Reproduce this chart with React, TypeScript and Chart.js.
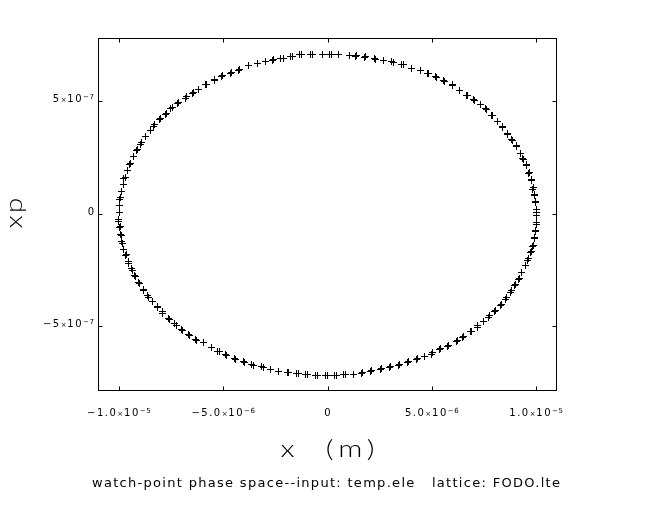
import React, { useEffect, useRef } from "react";
import { Chart, registerables } from "chart.js";

Chart.register(...registerables);

// x in units of 1e-6 m, xp in units of 1e-7
const Q1_X = [-0.25,-0.74,-0.82,-1.26,-1.33,-1.70,-1.76,-2.13,-2.24,-2.58,-2.66,-2.98,-3.37,-3.78,-4.21,-4.26,-4.61,-4.66,-5.01,-5.09,-5.41,-5.44,-5.78,-5.86,-6.17,-6.41,-6.48,-6.77,-6.82,-7.12,-7.17,-7.44,-7.52,-7.73,-7.78,-8.02,-8.04,-8.28,-8.33,-8.49,-8.73,-8.93,-8.97,-9.13,-9.17,-9.29,-9.45,-9.50,-9.60,-9.69,-9.76,-9.80,-9.88,-9.93,-9.95,-9.96,-9.96];
const Q1_Y = [7.10,7.10,7.07,7.07,7.07,7.00,6.98,6.93,6.93,6.85,6.84,6.78,6.70,6.58,6.41,6.39,6.29,6.26,6.14,6.11,5.99,5.95,5.77,5.73,5.55,5.40,5.37,5.20,5.15,4.95,4.91,4.73,4.70,4.46,4.42,4.24,4.18,3.96,3.88,3.69,3.44,3.17,3.10,2.85,2.80,2.55,2.26,2.21,1.91,1.61,1.57,1.32,0.99,0.73,0.62,0.39,0.06];

const Q2_X = [0.09,0.17,0.54,1.05,1.38,1.33,1.81,1.76,2.29,2.24,2.69,3.17,3.09,3.65,3.57,4.02,4.45,4.85,4.80,5.22,5.17,5.62,5.57,6.00,5.97,6.34,6.32,6.69,6.65,7.04,7.01,7.33,7.60,7.57,7.89,7.85,8.17,8.14,8.41,8.38,8.64,8.61,8.88,8.84,9.08,9.05,9.24,9.41,9.37,9.53,9.56,9.67,9.65,9.77,9.80,9.85,9.84,9.93,9.92,9.99,9.97,10.0,10.0];
const Q2_Y = [7.10,7.10,7.10,7.06,7.03,7.00,6.98,6.95,6.88,6.91,6.81,6.73,6.76,6.63,6.63,6.48,6.36,6.24,6.26,6.06,6.09,5.89,5.92,5.69,5.73,5.47,5.50,5.25,5.28,5.06,5.09,4.85,4.63,4.68,4.36,4.39,4.09,4.12,3.84,3.87,3.55,3.59,3.25,3.29,2.98,3.02,2.70,2.43,2.48,2.14,2.18,1.84,1.79,1.54,1.47,1.17,1.10,0.88,0.80,0.53,0.50,0.21,0.06];

const Q3_X = [-10.0,-10.0,-9.96,-9.93,-9.91,-9.88,-9.85,-9.84,-9.76,-9.67,-9.65,-9.53,-9.52,-9.41,-9.36,-9.24,-9.21,-9.05,-9.00,-8.84,-8.80,-8.64,-8.60,-8.41,-8.17,-8.13,-7.92,-7.89,-7.61,-7.56,-7.33,-7.25,-6.98,-6.93,-6.65,-6.61,-6.32,-6.26,-5.93,-5.57,-5.25,-5.17,-4.90,-4.82,-4.45,-4.40,-4.05,-3.97,-3.62,-3.54,-3.17,-3.09,-2.74,-2.33,-1.94,-1.85,-1.50,-1.41,-1.05,-0.97,-0.58,-0.50,-0.11,-0.02];
const Q3_Y = [-0.24,-0.36,-0.61,-0.58,-0.92,-0.98,-1.25,-1.32,-1.57,-1.84,-1.79,-2.14,-2.21,-2.43,-2.50,-2.73,-2.80,-3.06,-3.10,-3.35,-3.39,-3.65,-3.72,-3.88,-4.14,-4.18,-4.36,-4.43,-4.66,-4.68,-4.88,-4.95,-5.15,-5.17,-5.37,-5.40,-5.57,-5.62,-5.74,-5.96,-6.11,-6.14,-6.24,-6.29,-6.44,-6.46,-6.55,-6.61,-6.69,-6.73,-6.78,-6.84,-6.91,-7.00,-7.06,-7.06,-7.10,-7.10,-7.13,-7.15,-7.18,-7.18,-7.18,-7.18];

const Q4_X = [10.01,10.01,10.01,9.98,9.96,9.93,9.91,9.88,9.84,9.77,9.72,9.64,9.60,9.48,9.32,9.19,9.17,9.00,8.96,8.81,8.76,8.57,8.52,8.33,8.28,8.04,8.00,7.76,7.73,7.49,7.20,7.17,6.89,6.85,6.53,6.48,6.21,6.16,5.81,5.76,5.41,5.36,5.04,4.98,4.64,4.32,4.26,3.89,3.84,3.46,3.41,3.04,2.98,2.61,2.53,2.13,2.05,1.69,1.62,1.26,0.85,0.78,0.41,0.33];
const Q4_Y = [-0.06,-0.40,-0.48,-0.73,-0.77,-1.05,-1.10,-1.39,-1.44,-1.66,-1.73,-1.99,-2.06,-2.31,-2.62,-2.88,-2.92,-3.14,-3.20,-3.43,-3.50,-3.74,-3.80,-4.03,-4.09,-4.28,-4.33,-4.54,-4.60,-4.77,-4.98,-5.06,-5.22,-5.25,-5.44,-5.50,-5.62,-5.69,-5.84,-5.89,-5.99,-6.04,-6.17,-6.24,-6.36,-6.44,-6.48,-6.58,-6.63,-6.70,-6.76,-6.81,-6.85,-6.88,-6.93,-6.98,-7.03,-7.06,-7.10,-7.13,-7.13,-7.15,-7.18,-7.18];

const X_UNIT = 1e-6;
const Y_UNIT = 1e-7;

const X_MIN = -1.1e-5;
const X_MAX = 1.1e-5;
const Y_MIN = -7.88e-7;
const Y_MAX = 7.82e-7;

const X_TICKS = [-1e-5, -5e-6, 0, 5e-6, 1e-5];
const X_TICK_MANT = ["\u22121.0", "\u22125.0", "0", "5.0", "1.0"];
const X_TICK_EXP = ["\u22125", "\u22126", "", "\u22126", "\u22125"];

const Y_TICKS = [-5e-7, 0, 5e-7];
const Y_TICK_MANT = ["\u22125", "0", "5"];
const Y_TICK_EXP = ["\u22127", "", "\u22127"];

const X_TITLE = "x  (m)";
const Y_TITLE = "xp";
const CAPTION = "watch-point phase space--input: temp.ele   lattice: FODO.lte";

const TICK_LEN = 4;

function makeCross(): HTMLCanvasElement {
  const c = document.createElement("canvas");
  c.width = 7;
  c.height = 7;
  const g = c.getContext("2d")!;
  g.fillStyle = "#000";
  g.fillRect(0, 3, 7, 1);
  g.fillRect(3, 0, 1, 7);
  return c;
}

function drawSci(ctx: CanvasRenderingContext2D, mant: string, exp: string, x: number, y: number, align: "center" | "right") {
  const big = "10px 'DejaVu Sans'";
  const small = "7px 'DejaVu Sans'";
  const parts: [string, string, number, number][] = exp
    ? [[mant, big, 0, 1.5], ["\u00d7", small, 0, 0.8], ["10", big, 0, 1.5], [exp, small, -3.5, 0.6]]
    : [[mant, big, 0, 1.5]];
  const widths = parts.map((p) => {
    ctx.font = p[1];
    (ctx as any).letterSpacing = p[3] + "px";
    return ctx.measureText(p[0]).width;
  });
  const total = widths.reduce((a, b) => a + b, 0) - parts[parts.length - 1][3];
  let cx = align === "center" ? x - total / 2 : x - total;
  ctx.textAlign = "left";
  ctx.textBaseline = "alphabetic";
  parts.forEach((p, i) => {
    ctx.font = p[1];
    (ctx as any).letterSpacing = p[3] + "px";
    ctx.fillText(p[0], cx, y + p[2]);
    cx += widths[i];
  });
  (ctx as any).letterSpacing = "0px";
}

const crispPlugin = {
  id: "crispPoints",
  beforeDatasetsDraw(chart: any) {
    chart.ctx.imageSmoothingEnabled = false;
  },
  afterDatasetsDraw(chart: any) {
    chart.ctx.imageSmoothingEnabled = true;
  },
};

const framePlugin = {
  id: "sddsFrame",
  afterDraw(chart: any) {
    const { ctx, chartArea: a, scales } = chart;
    const xs = scales.x;
    const ys = scales.y;
    const L = Math.round(a.left) + 0.5;
    const R = Math.round(a.right) - 0.5;
    const T = Math.round(a.top) + 0.5;
    const B = Math.round(a.bottom) - 0.5;
    ctx.save();
    ctx.strokeStyle = "#000";
    ctx.fillStyle = "#000";
    ctx.lineWidth = 1;
    ctx.strokeRect(L, T, R - L, B - T);
    ctx.beginPath();
    X_TICKS.forEach((v) => {
      const px = Math.round(xs.getPixelForValue(v)) + 0.5;
      ctx.moveTo(px, T);
      ctx.lineTo(px, T + TICK_LEN);
      ctx.moveTo(px, B);
      ctx.lineTo(px, B - TICK_LEN);
    });
    Y_TICKS.forEach((v) => {
      const py = Math.round(ys.getPixelForValue(v)) + 0.5;
      ctx.moveTo(L, py);
      ctx.lineTo(L + TICK_LEN, py);
      ctx.moveTo(R, py);
      ctx.lineTo(R - TICK_LEN, py);
    });
    ctx.stroke();

    X_TICKS.forEach((v, i) => {
      const px = xs.getPixelForValue(v);
      drawSci(ctx, X_TICK_MANT[i], X_TICK_EXP[i], px, B + 25.5, "center");
    });
    Y_TICKS.forEach((v, i) => {
      const py = ys.getPixelForValue(v);
      drawSci(ctx, Y_TICK_MANT[i], Y_TICK_EXP[i], L - 4.5, py + 1, "right");
    });

    // x axis title (wide, thin lettering)
    ctx.save();
    ctx.font = "300 24px Lato";
    (ctx as any).letterSpacing = "4px";
    const tw = ctx.measureText(X_TITLE).width - 4;
    ctx.textAlign = "left";
    ctx.textBaseline = "alphabetic";
    const sx = 1.25;
    ctx.translate((L + R) / 2, 457);
    ctx.scale(sx, 1);
    ctx.fillText(X_TITLE, -tw / 2, 0);
    ctx.restore();

    // y axis title (rotated)
    ctx.save();
    ctx.translate(22, 213);
    ctx.rotate(-Math.PI / 2);
    ctx.scale(1.15, 1);
    ctx.font = "300 24px Lato";
    (ctx as any).letterSpacing = "2px";
    const yw = ctx.measureText(Y_TITLE).width - 2;
    ctx.textAlign = "left";
    ctx.fillText(Y_TITLE, -yw / 2, 0);
    ctx.restore();

    // caption
    ctx.font = "13px 'DejaVu Sans'";
    (ctx as any).letterSpacing = "0px";
    const w0 = ctx.measureText(CAPTION).width;
    const ls = (468 - w0) / (CAPTION.length - 1);
    (ctx as any).letterSpacing = ls + "px";
    ctx.textAlign = "left";
    ctx.fillText(CAPTION, 92, 487);
    (ctx as any).letterSpacing = "0px";
    ctx.restore();
  },
};

export default function App() {
  const ref = useRef<HTMLCanvasElement | null>(null);
  useEffect(() => {
    if (!ref.current) return;
    const toPts = (xs: number[], ys: number[]) => xs.map((x, i) => ({ x: x * X_UNIT, y: ys[i] * Y_UNIT }));
    const data = [...toPts(Q1_X, Q1_Y), ...toPts(Q2_X, Q2_Y), ...toPts(Q3_X, Q3_Y), ...toPts(Q4_X, Q4_Y)];
    const cross = makeCross();
    const chart = new Chart(ref.current, {
      type: "scatter",
      data: {
        datasets: [
          {
            data,
            pointStyle: cross,
            pointRadius: 3.5,
            pointBorderWidth: 1,
            borderColor: "#000",
            backgroundColor: "#000",
            showLine: false,
          } as any,
        ],
      },
      options: {
        animation: false,
        responsive: false,
        devicePixelRatio: 1,
        events: [],
        layout: { padding: { left: 98, top: 38, right: 99, bottom: 115 } },
        scales: {
          x: { type: "linear", min: X_MIN, max: X_MAX, display: false },
          y: { type: "linear", min: Y_MIN, max: Y_MAX, display: false },
        },
        plugins: { legend: { display: false }, tooltip: { enabled: false }, title: { display: false } },
      },
      plugins: [crispPlugin, framePlugin],
    });
    return () => chart.destroy();
  }, []);
  return (
    <div style={{ position: "fixed", left: 0, top: 0, width: 656, height: 506, background: "#fff" }}>
      <canvas ref={ref} width={656} height={506} style={{ display: "block", width: 656, height: 506 }} />
    </div>
  );
}
